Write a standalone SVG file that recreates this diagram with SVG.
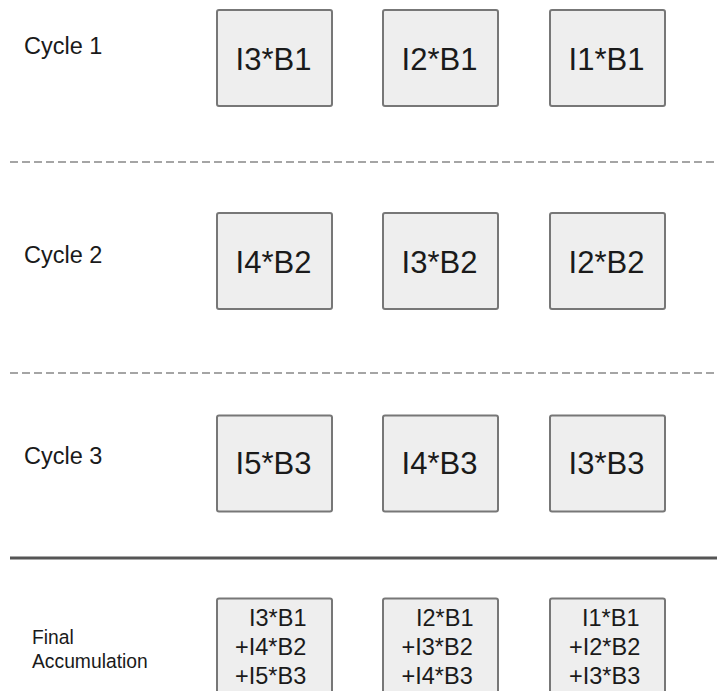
<svg xmlns="http://www.w3.org/2000/svg" width="717" height="691" viewBox="0 0 717 691">
<style>
.bg{fill:#ffffff}
.box{fill:#eeeeee;stroke:#777777;stroke-width:2}
.lbl{font-family:"Liberation Sans",Arial,sans-serif;font-size:31px;fill:#1a1a1a;text-anchor:middle}
.acc{font-family:"Liberation Sans",Arial,sans-serif;font-size:23.5px;fill:#1a1a1a}
.cyc{font-family:"Liberation Sans",Arial,sans-serif;font-size:23.5px;fill:#1a1a1a}
.fin{font-family:"Liberation Sans",Arial,sans-serif;font-size:19.3px;fill:#1a1a1a}
.dash{stroke:#888888;stroke-width:1.6;stroke-dasharray:8 4;fill:none}
.solid{stroke:#555555;stroke-width:3;fill:none}
</style>
<rect class="bg" x="0" y="0" width="717" height="691"/>
<g id="separators">
<line class="dash" x1="10" y1="162" x2="717" y2="162"/>
<line class="dash" x1="10" y1="373" x2="717" y2="373"/>
<line class="solid" x1="10" y1="558" x2="717" y2="558"/>
</g>
<g id="labels">
<text class="cyc" x="24" y="54">Cycle 1</text>
<text class="cyc" x="24" y="263">Cycle 2</text>
<text class="cyc" x="24" y="464">Cycle 3</text>
<text class="fin" x="32" y="644">Final</text>
<text class="fin" x="32" y="668">Accumulation</text>
</g>
<g id="c1n1"><rect class="box" x="217" y="10" width="115" height="96" rx="2"/><text class="lbl" x="273.5" y="69.5">I3*B1</text></g>
<g id="c1n2"><rect class="box" x="383" y="10" width="115" height="96" rx="2"/><text class="lbl" x="439.5" y="69.5">I2*B1</text></g>
<g id="c1n3"><rect class="box" x="550" y="10" width="115" height="96" rx="2"/><text class="lbl" x="606.5" y="69.5">I1*B1</text></g>
<g id="c2n1"><rect class="box" x="217" y="213" width="115" height="96" rx="2"/><text class="lbl" x="273.5" y="272.5">I4*B2</text></g>
<g id="c2n2"><rect class="box" x="383" y="213" width="115" height="96" rx="2"/><text class="lbl" x="439.5" y="272.5">I3*B2</text></g>
<g id="c2n3"><rect class="box" x="550" y="213" width="115" height="96" rx="2"/><text class="lbl" x="606.5" y="272.5">I2*B2</text></g>
<g id="c3n1"><rect class="box" x="217" y="415.5" width="115" height="96" rx="2"/><text class="lbl" x="273.5" y="473.5">I5*B3</text></g>
<g id="c3n2"><rect class="box" x="383" y="415.5" width="115" height="96" rx="2"/><text class="lbl" x="439.5" y="473.5">I4*B3</text></g>
<g id="c3n3"><rect class="box" x="550" y="415.5" width="115" height="96" rx="2"/><text class="lbl" x="606.5" y="473.5">I3*B3</text></g>
<g id="fn1"><rect class="box" x="217" y="598.5" width="115" height="110" rx="2"/>
<text class="acc" x="249" y="626">I3*B1</text><text class="acc" x="235" y="655">+I4*B2</text><text class="acc" x="235" y="684">+I5*B3</text></g>
<g id="fn2"><rect class="box" x="383" y="598.5" width="115" height="110" rx="2"/>
<text class="acc" x="416" y="626">I2*B1</text><text class="acc" x="401.5" y="655">+I3*B2</text><text class="acc" x="401.5" y="684">+I4*B3</text></g>
<g id="fn3"><rect class="box" x="550" y="598.5" width="115" height="110" rx="2"/>
<text class="acc" x="582" y="626">I1*B1</text><text class="acc" x="569" y="655">+I2*B2</text><text class="acc" x="569" y="684">+I3*B3</text></g>
</svg>
